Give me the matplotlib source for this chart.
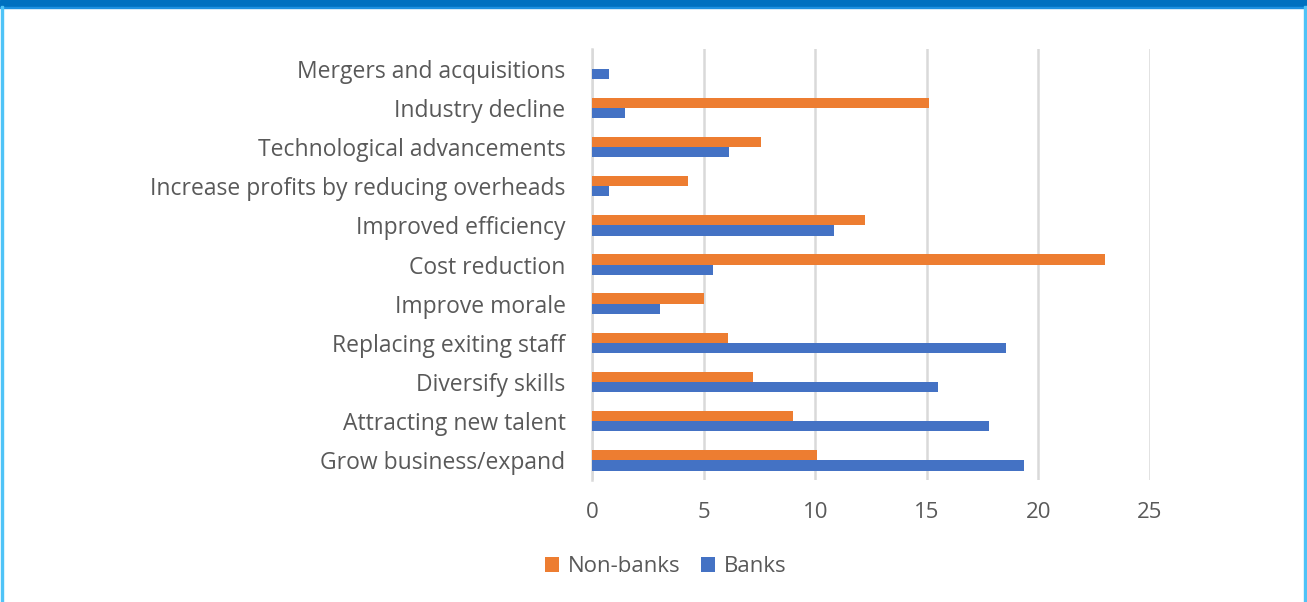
import numpy as np
import matplotlib.pyplot as plt
from matplotlib.patches import Rectangle

# Data, bottom to top
categories = [
    "Grow business/expand",
    "Attracting new talent",
    "Diversify skills",
    "Replacing exiting staff",
    "Improve morale",
    "Cost reduction",
    "Improved efficiency",
    "Increase profits by reducing overheads",
    "Technological advancements",
    "Industry decline",
    "Mergers and acquisitions",
]
non_banks = [10.1, 9.0, 7.2, 6.1, 5.0, 23.0, 12.25, 4.3, 7.55, 15.1, 0.0]
banks = [19.35, 17.8, 15.5, 18.55, 3.05, 5.4, 10.85, 0.75, 6.15, 1.5, 0.75]
xticks = [0, 5, 10, 15, 20, 25]

ORANGE = "#ED7D31"
BLUE = "#4472C4"
TEXT = "#595959"
GRID = "#D9D9D9"

plt.rcParams['font.family'] = ['Open Sans', 'DejaVu Sans']

W, H = 1307, 602
fig = plt.figure(figsize=(W / 100, H / 100), dpi=100)

# plot area in pixel coords
left, right, top, bottom = 592, 1150, 49, 480
ax = fig.add_axes([left / W, 1 - bottom / H, (right - left) / W, (bottom - top) / H])

y = np.arange(len(categories))
h = 0.26
ax.barh(y + h / 2, non_banks, height=h, color=ORANGE, label="Non-banks", zorder=3)
ax.barh(y - h / 2, banks, height=h, color=BLUE, label="Banks", zorder=3)

ax.set_xlim(0, 25)
ax.set_ylim(-0.5, len(categories) - 0.5)
ax.set_xticks(xticks)
ax.set_xticklabels([str(t) for t in xticks], fontsize=16, color=TEXT)
ax.set_yticks(y)
ax.set_yticklabels(categories, fontsize=16.5, color=TEXT)
ax.tick_params(axis='both', length=0)
ax.tick_params(axis='x', pad=16)
ax.tick_params(axis='y', pad=19)
ax.grid(axis='x', color=GRID, linewidth=1.8, zorder=0)
ax.grid(axis='y', visible=False)
for s in ['top', 'right', 'bottom']:
    ax.spines[s].set_visible(False)
ax.spines['left'].set_color(GRID)
ax.spines['left'].set_linewidth(1.8)

leg = fig.legend(loc='center', bbox_to_anchor=(666 / W, 1 - 567 / H), ncol=2,
                 frameon=False, fontsize=16, handlelength=0.65, handleheight=0.65,
                 columnspacing=0.9, handletextpad=0.4)
for t in leg.get_texts():
    t.set_color(TEXT)

# frame decoration: blue band on top, light blue sides
fig.patches.append(Rectangle((0, 1 - 7 / H), 1, 7 / H, transform=fig.transFigure,
                             color="#0070C0", zorder=10))
fig.patches.append(Rectangle((0, 1 - 8 / H), 1, 1.5 / H, transform=fig.transFigure,
                             color="#1E90E0", zorder=10))
fig.patches.append(Rectangle((0.5 / W, 0), 2.5 / W, 1 - 6 / H, transform=fig.transFigure,
                             color="#4FC3F7", zorder=10))
fig.patches.append(Rectangle((1 - 3 / W, 0), 2.5 / W, 1 - 6 / H, transform=fig.transFigure,
                             color="#4FC3F7", zorder=10))

fig.savefig("out.png", dpi=100)
